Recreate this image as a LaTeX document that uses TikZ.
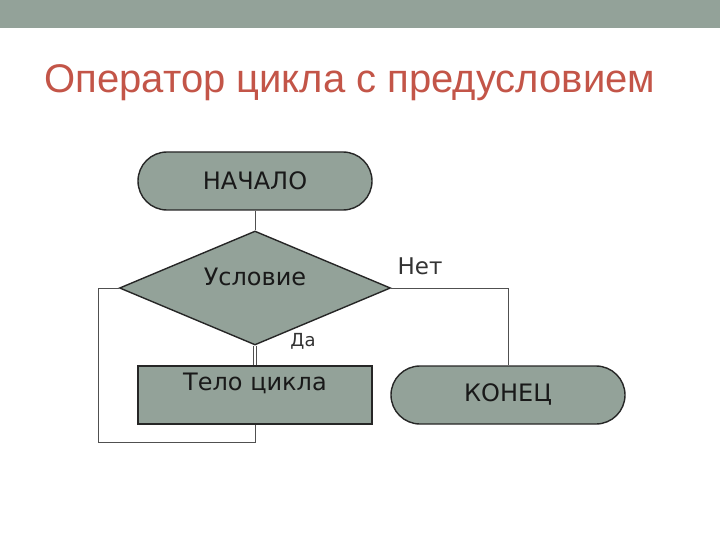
\documentclass[tikz,border=0pt]{standalone}
\usepackage{fontspec}
\setmainfont{DejaVu Sans}
\newfontfamily\titlefont{Liberation Sans}
\usepackage{xcolor}
\usetikzlibrary{calc, positioning, shapes.geometric, shapes.misc}

\definecolor{slate}{RGB}{147,162,153}
\definecolor{rust}{RGB}{195,85,72}
\definecolor{wire}{RGB}{80,80,80}

\tikzset{
  term/.style = {rounded rectangle, draw=black!85, line width=1.4pt, fill=slate,
                 minimum width=234pt, minimum height=58pt, inner sep=0pt},
  cond/.style = {diamond, draw=black!85, line width=1.4pt, fill=slate,
                 minimum width=271pt, minimum height=114pt, inner sep=0pt},
  block/.style = {rectangle, draw=black!85, line width=1.4pt, fill=slate,
                  minimum width=234pt, minimum height=58pt, inner sep=0pt},
  txt/.style = {font=\fontsize{24}{28}\selectfont, text=black!90},
  wire/.style = {draw=wire, line width=0.9pt}
}

\begin{document}
\begin{tikzpicture}[x=1pt, y=-1pt]
\useasboundingbox (0,0) rectangle (720,540);
\fill[slate] (0,0) rectangle (720,28);

\node[anchor=base west, text=rust, font=\titlefont\fontsize{40}{46}\selectfont] (title) at (41,93) {Оператор цикла с предусловием};

\node[term] (start) at (255,181) {};
\node[txt] (starttext) at (255,181) {НАЧАЛО};

\node[cond] (check) at (255,288) {};
\node[txt] (checktext) at (255,277) {Условие};

\node[block] (body) at (255,395) {};
\node[txt] (bodytext) at (255,383) {Тело цикла};

\node[term] (finish) at (508,395) {};
\node[txt] (finishtext) at (508,394) {КОНЕЦ};

\node[txt, font=\fontsize{23}{27}\selectfont, text=black!80] (no) at (420,266) {Нет};
\node[txt, font=\fontsize{18}{21}\selectfont, text=black!80] (yes) at (303,341) {Да};

\draw[wire] (start.south) -- (check.north);
\draw[wire] ([xshift=-1.2pt]check.south) -- ([xshift=-1.2pt]body.north);
\draw[wire] ([xshift=1.2pt]check.south) -- ([xshift=1.2pt]body.north);
\draw[wire] (check.east) -| (finish.north);
\draw[wire] (body.south) -- ++(0,18) -| ([xshift=-20pt]check.west) -- (check.west);

\end{tikzpicture}
\end{document}
